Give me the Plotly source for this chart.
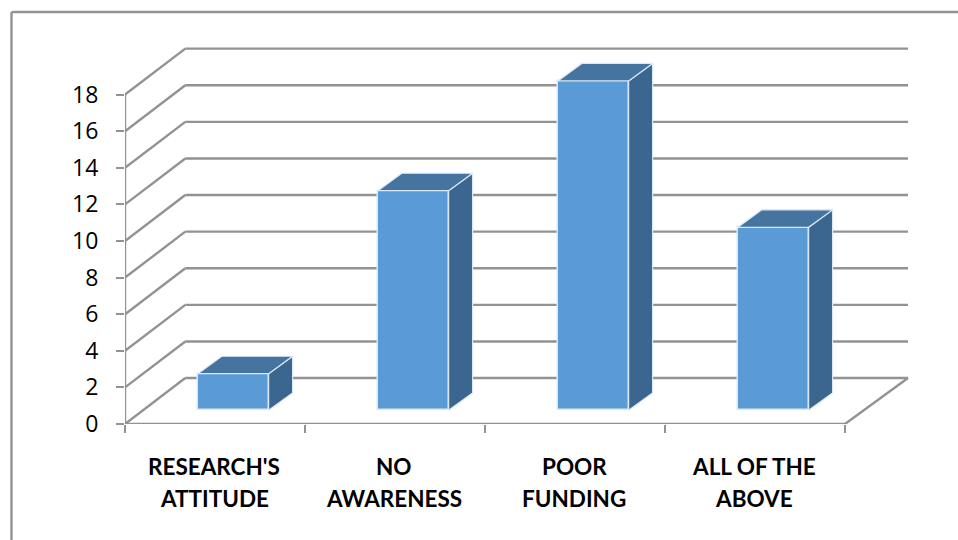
import plotly.graph_objects as go

# Data
line_one = ["RESEARCH'S", "NO", "POOR", "ALL OF THE"]
line_two = ["ATTITUDE", "AWARENESS", "FUNDING", "ABOVE"]
values = [2, 12, 18, 10]
y_ticks = [0, 2, 4, 6, 8, 10, 12, 14, 16, 18]

# Oblique projection of the chart (axis units)
DX, DY = 0.35, 2.51          # full floor depth
DX_LEFT = 0.335
BAR_NEAR, BAR_DEPTH = 0.29, 0.38
BAR_W = 0.393
GREY = "#929292"
LW = 2.4
n = len(values)

fig = go.Figure()
shapes = []


def seg(xs, ys, color=GREY, w=LW):
    for i in range(len(xs) - 1):
        shapes.append(dict(type="line", xref="x", yref="y", layer="below",
                           x0=xs[i], y0=ys[i], x1=xs[i + 1], y1=ys[i + 1],
                           line=dict(color=color, width=w)))


# gridlines: wall + side wall
for v in y_ticks:
    seg([0, DX_LEFT, n + DX], [v, v + DY, v + DY])
# floor + axes
seg([0, n, n + DX], [0, 0, DY])
seg([0, 0], [0, y_ticks[-1]])

# frame (chart area border, cropped at right and bottom)
W, H, L, R, T, B = 958, 540, 125, 48, 46, 116
pw, ph = W - L - R, H - T - B
fx = lambda px: (px - L) / pw
fy = lambda py: (H - B - py) / ph
shapes.append(dict(type="line", xref="paper", yref="paper", x0=fx(11.5), x1=fx(958),
                   y0=fy(12), y1=fy(12), line=dict(color=GREY, width=LW)))
shapes.append(dict(type="line", xref="paper", yref="paper", x0=fx(11.5), x1=fx(11.5),
                   y0=fy(12), y1=fy(540), line=dict(color=GREY, width=LW)))

EDGE = "#dbe8f5"
centers = [i + 0.5 + BAR_NEAR * DX for i in range(n)]
base = BAR_NEAR * DY + 0.02
fig.add_trace(go.Bar(x=centers, y=values, base=[base] * n, width=BAR_W,
                     marker=dict(color="#5b9bd5", line=dict(color=EDGE, width=1.5)),
                     showlegend=False, hoverinfo="skip"))

ox, oy = BAR_DEPTH * DX, BAR_DEPTH * DY
for c, v in zip(centers, values):
    xl, xr = c - BAR_W / 2, c + BAR_W / 2
    yb, yt = base, base + v
    # right side
    fig.add_trace(go.Scatter(x=[xr, xr + ox, xr + ox, xr, xr], y=[yb, yb + oy, yt + oy, yt, yb],
                             mode="lines", fill="toself", fillcolor="#3a6690",
                             line=dict(color=EDGE, width=1.2), showlegend=False, hoverinfo="skip"))
    # top
    fig.add_trace(go.Scatter(x=[xl, xl + ox, xr + ox, xr, xl], y=[yt, yt + oy, yt + oy, yt, yt],
                             mode="lines", fill="toself", fillcolor="#44749f",
                             line=dict(color=EDGE, width=1.2), showlegend=False, hoverinfo="skip"))

annotations = []
for i, (a, b) in enumerate(zip(line_one, line_two)):
    annotations.append(dict(x=i + 0.5, y=0, xref="x", yref="y", text=f"<b>{a}</b>", showarrow=False,
                            yanchor="middle", xshift=-1, yshift=-42,
                            font=dict(family="Lato", size=22.5, color="#000")))
    annotations.append(dict(x=i + 0.5, y=0, xref="x", yref="y", text=f"<b>{b}</b>", showarrow=False,
                            yanchor="middle", xshift=-1, yshift=-74,
                            font=dict(family="Lato", size=22.5, color="#000")))

fig.update_layout(
    width=W, height=H, margin=dict(l=L, r=R, t=T, b=B, pad=0),
    paper_bgcolor="white", plot_bgcolor="white", shapes=shapes, annotations=annotations,
    bargap=0, font=dict(family="Open Sans", size=23, color="#000"),
    xaxis=dict(range=[0, pw / 180.0], tickmode="array", tickvals=list(range(n + 1)),
               showticklabels=False, ticks="outside", ticklen=8, tickwidth=LW, tickcolor=GREY,
               showgrid=False, zeroline=False, showline=False),
    yaxis=dict(range=[0, ph / 18.3], tickmode="array", tickvals=y_ticks,
               ticks="outside", ticklen=8, tickwidth=LW, tickcolor=GREY, ticklabelstandoff=13,
               showgrid=False, zeroline=False, showline=False),
)
fig.write_html("out.html", post_script="document.body.style.margin='0';",
               config=dict(displayModeBar=False))
